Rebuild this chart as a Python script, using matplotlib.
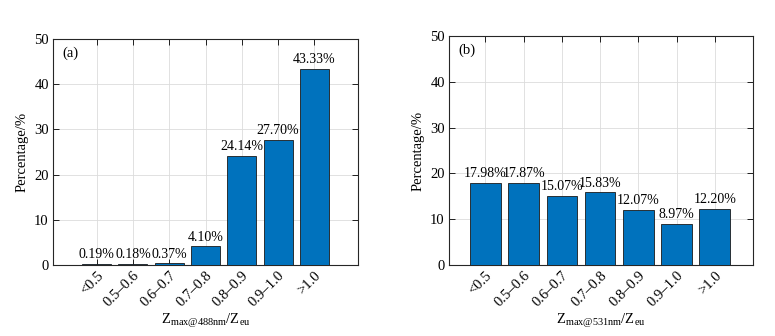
import matplotlib
matplotlib.use("Agg")
import matplotlib.pyplot as plt

plt.rcParams.update({
    "font.family": "serif",
    "font.serif": ["Liberation Serif", "DejaVu Serif"],
    "mathtext.fontset": "custom",
    "mathtext.rm": "Liberation Serif",
    "mathtext.it": "Liberation Serif:italic",
    "font.size": 10,
})

CATEGORIES = ["<0.5", "0.5–0.6", "0.6–0.7", "0.7–0.8", "0.8–0.9", "0.9–1.0", ">1.0"]
PCT_488 = [0.19, 0.18, 0.37, 4.10, 24.14, 27.70, 43.33]
PCT_531 = [17.98, 17.87, 15.07, 15.83, 12.07, 8.97, 12.20]
PANELS = ["(a)", "(b)"]
XLABELS = [r"$\mathrm{Z_{max@488nm}/Z_{eu}}$", r"$\mathrm{Z_{max@531nm}/Z_{eu}}$"]

BAR_COLOR = "#0072BD"
W, H = 775, 336


def draw(ax, values, tag, xlabel, xlim):
    x = list(range(len(CATEGORIES)))
    ax.bar(x, values, width=0.8, color=BAR_COLOR, edgecolor="#1a1a1a",
           linewidth=0.6, zorder=3)
    for xi, v in zip(x, values):
        ax.text(xi, v + 0.6, f"{v:.2f}%", ha="center", va="bottom",
                fontsize=10, zorder=4)
    ax.set_xlim(*xlim)
    ax.set_ylim(0, 50)
    ax.set_yticks(range(0, 51, 10))
    ax.set_xticks(x)
    ax.set_xticklabels(CATEGORIES, rotation=45, ha="right",
                       rotation_mode="anchor")
    ax.grid(True, color="#dcdcdc", linewidth=0.6, zorder=0)
    ax.set_axisbelow(True)
    ax.tick_params(direction="in", top=True, right=True, length=4,
                   width=0.6, labelsize=10.5, pad=3)
    for s in ax.spines.values():
        s.set_linewidth(0.8)
        s.set_color("#262626")
    ax.set_ylabel("Percentage/%", fontsize=10.5, labelpad=4)
    ax.set_xlabel(xlabel, fontsize=10.5, labelpad=2)
    ax.text(0.03, 0.965, tag, transform=ax.transAxes, ha="left", va="top",
            fontsize=10.5)


def px_axes(fig, left, right, top, bottom):
    return fig.add_axes([left / W, 1 - bottom / H, (right - left) / W,
                         (bottom - top) / H])


fig = plt.figure(figsize=(W / 100, H / 100), dpi=100)
ax_a = px_axes(fig, 53, 358, 39, 265)
ax_b = px_axes(fig, 449, 753, 36, 265)

draw(ax_a, PCT_488, PANELS[0], XLABELS[0], (-1.2, 7.2))
draw(ax_b, PCT_531, PANELS[1], XLABELS[1], (-0.95, 7.0))

fig.savefig("out.png", dpi=100)
